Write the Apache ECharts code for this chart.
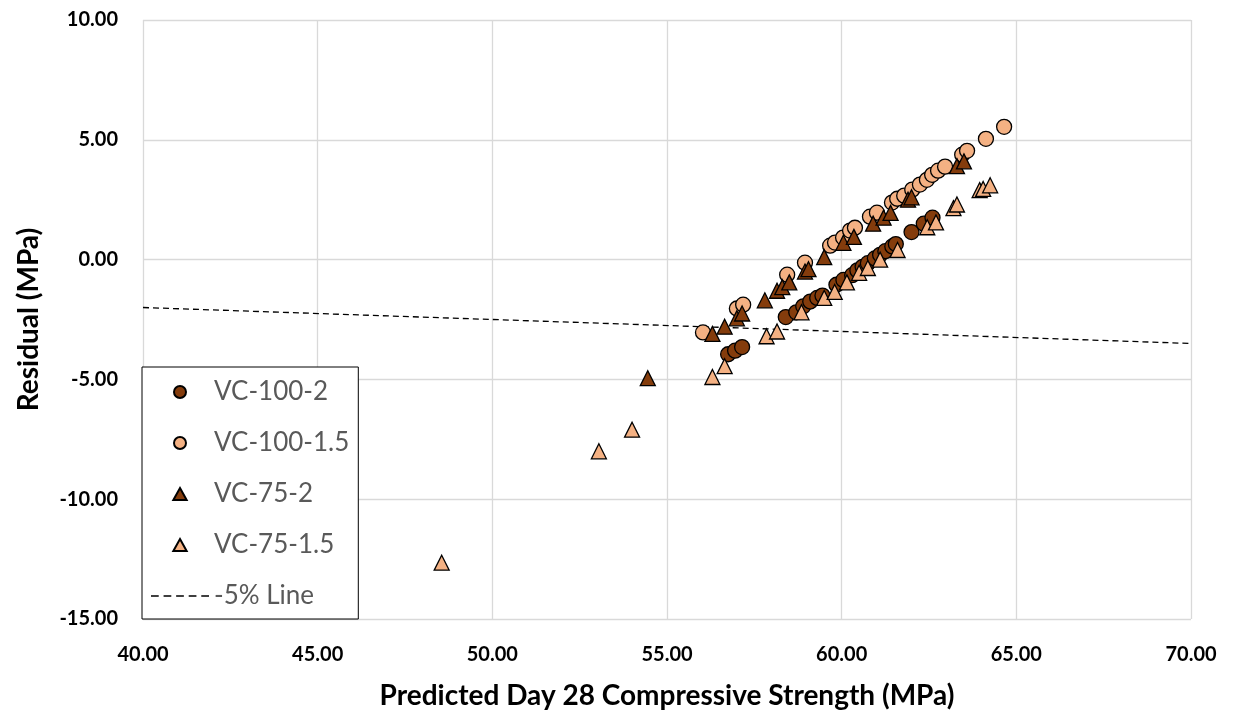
<!DOCTYPE html>
<html lang="en">
<head>
    <meta charset="UTF-8">
    <title>Residual vs Predicted Strength</title>
    <script src="https://cdn.jsdelivr.net/npm/echarts@6/dist/echarts.min.js"></script>
    <style>
        body {
            margin: 0;
            padding: 0;
            overflow: hidden;
            background: #fff;
        }
    </style>
</head>
<body>
    <div id="main" style="width: 1238px;height:715px;"></div>
<script>
    // [predicted strength, residual] pairs
    var vc100_2 = [
        [56.75, -3.95], [56.95, -3.8], [57.15, -3.65], [58.4, -2.4], [58.7, -2.2],
        [58.9, -1.95], [59.1, -1.75], [59.3, -1.6], [59.45, -1.5], [59.85, -1.05],
        [60.05, -0.85], [60.3, -0.65], [60.45, -0.45], [60.6, -0.3], [60.75, -0.15],
        [60.95, 0.05], [61.1, 0.2], [61.25, 0.35], [61.45, 0.55], [61.55, 0.65],
        [62.0, 1.15], [62.35, 1.5], [62.6, 1.75]
    ];
    var vc100_15 = [
        [56.03, -3.04], [57.0, -2.04], [57.18, -1.88], [58.44, -0.63], [58.95, -0.13],
        [59.67, 0.58], [59.81, 0.71], [60.04, 0.92], [60.24, 1.21], [60.38, 1.33],
        [60.81, 1.79], [61.01, 1.96], [61.44, 2.38], [61.59, 2.54], [61.79, 2.67],
        [62.02, 2.92], [62.24, 3.13], [62.44, 3.33], [62.59, 3.54], [62.76, 3.71],
        [62.96, 3.88], [63.45, 4.38], [63.59, 4.54], [64.13, 5.04], [64.65, 5.54]
    ];
    var vc75_2 = [
        [54.45, -4.95], [56.3, -3.1], [56.65, -2.8], [57.0, -2.45], [57.15, -2.25],
        [57.8, -1.7], [58.15, -1.3], [58.3, -1.15], [58.5, -0.95], [58.95, -0.5],
        [59.05, -0.4], [59.5, 0.1], [60.05, 0.7], [60.35, 0.95], [60.9, 1.5],
        [61.2, 1.75], [61.4, 1.95], [61.9, 2.5], [62.0, 2.6], [63.3, 3.9], [63.5, 4.1]
    ];
    var vc75_15 = [
        [48.55, -12.65], [53.05, -8.0], [54.0, -7.1], [56.3, -4.9], [56.65, -4.45],
        [57.85, -3.2], [58.15, -3.0], [58.85, -2.2], [59.5, -1.6], [59.8, -1.35],
        [60.15, -0.95], [60.5, -0.55], [60.75, -0.35], [61.1, 0.0], [61.6, 0.4],
        [62.45, 1.35], [62.7, 1.55], [63.2, 2.15], [63.3, 2.3], [63.95, 2.9],
        [64.05, 2.95], [64.25, 3.1]
    ];
    var lineX = [40, 70];
    var lineY = [-2.0, -3.5];

    var names = ['VC-100-2', 'VC-100-1.5', 'VC-75-2', 'VC-75-1.5', '-5% Line'];
    var dark = '#843c0c';
    var light = '#f4b183';
    var font = 'Lato';

    // legend icons: triangle keeps its aspect as a path, dashed line drawn as 5 dashes
    var triIcon = 'path://M5,0L10,9L0,9Z';
    var dashIcon = 'path://M0,0h8v1.4h-8z M13,0h8v1.4h-8z M26,0h8v1.4h-8z M39,0h8v1.4h-8z M52,0h8v1.4h-8z';

    var chart = echarts.init(document.getElementById('main'));

    function scatter(name, data, symbol, color) {
        return {
            name: name,
            type: 'scatter',
            data: data,
            symbol: symbol,
            symbolSize: 15,
            z: 3,
            itemStyle: {
                color: color,
                borderColor: '#000',
                borderWidth: 1.3,
                opacity: 1
            }
        };
    }

    var option = {
        animation: false,
        textStyle: { fontFamily: font },
        grid: { left: 143, right: 47, top: 20, bottom: 95 },
        legend: {
            orient: 'vertical',
            left: 142,
            top: 367,
            symbolKeepAspect: true,
            data: [
                { name: names[0], icon: 'circle' },
                { name: names[1], icon: 'circle' },
                { name: names[2], icon: triIcon },
                { name: names[3], icon: triIcon },
                { name: names[4], icon: dashIcon, itemStyle: { borderWidth: 0 } }
            ],
            itemWidth: 58,
            itemHeight: 12,
            itemGap: 25,
            padding: [12, 9, 10, 9],
            backgroundColor: '#fff',
            borderColor: '#000',
            borderWidth: 1,
            textStyle: { fontSize: 26, color: '#595959', fontFamily: font }
        },
        xAxis: {
            type: 'value',
            min: 40,
            max: 70,
            interval: 5,
            name: 'Predicted Day 28 Compressive Strength (MPa)',
            nameLocation: 'middle',
            nameGap: 63,
            nameTextStyle: { fontSize: 28, fontWeight: 'bold', color: '#000', fontFamily: font },
            axisLine: { show: false },
            axisTick: { show: false },
            axisLabel: {
                margin: 26,
                fontSize: 20,
                fontWeight: 'bold',
                color: '#000',
                formatter: function(v) { return v.toFixed(2); }
            },
            splitLine: { lineStyle: { color: '#d9d9d9', width: 1.3 } }
        },
        yAxis: {
            type: 'value',
            min: -15,
            max: 10,
            interval: 5,
            name: 'Residual (MPa)',
            nameLocation: 'middle',
            nameGap: 100,
            nameTextStyle: { fontSize: 28, fontWeight: 'bold', color: '#000', fontFamily: font },
            axisLine: { show: false },
            axisTick: { show: false },
            axisLabel: {
                margin: 25,
                fontSize: 20,
                fontWeight: 'bold',
                color: '#000',
                formatter: function(v) { return v.toFixed(2); }
            },
            splitLine: { lineStyle: { color: '#d9d9d9', width: 1.3 } }
        },
        series: [
            {
                name: names[4],
                type: 'line',
                data: lineX.map(function(x, i) { return [x, lineY[i]]; }),
                symbol: 'none',
                z: 2,
                lineStyle: { color: '#000', width: 1.3, type: [6, 4] },
                itemStyle: { color: '#000' }
            },
            scatter(names[0], vc100_2, 'circle', dark),
            scatter(names[1], vc100_15, 'circle', light),
            scatter(names[2], vc75_2, 'triangle', dark),
            scatter(names[3], vc75_15, 'triangle', light)
        ]
    };
    chart.setOption(option);
</script>
</body>
</html>
